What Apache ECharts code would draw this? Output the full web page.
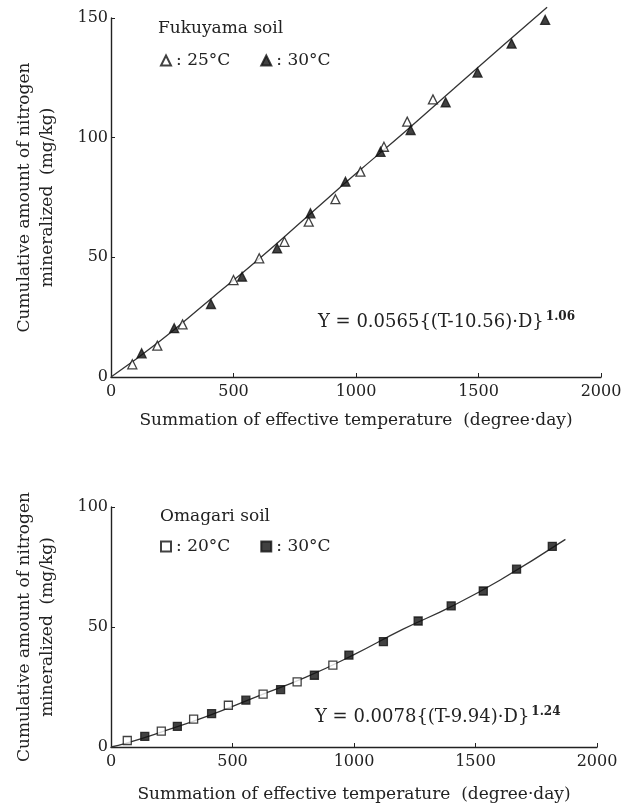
<!doctype html>
<html>
<head>
<meta charset="utf-8">
<script src="https://cdn.jsdelivr.net/npm/echarts@6/dist/echarts.min.js"></script>
<style>
  html, body { margin: 0; padding: 0; background: #fff; }
  #chart { width: 636px; height: 806px; }
</style>
</head>
<body>
<div id="chart"></div>
<script>
// Fukuyama soil (top panel): [effective temperature sum, N mineralized]
var fuku25 = [[87, 5.3], [189, 13.1], [292, 22], [500, 40.5], [605, 49.6], [708, 56.5], [807, 64.9],
  [916, 74.3], [1018, 85.8], [1114, 96.2], [1209, 106.7], [1314, 116]];
var fuku30 = [[125, 9.9], [258, 20.4], [408, 30.5], [535, 41.9], [678, 53.8], [814, 68.4], [957, 81.6],
  [1100, 94.1], [1223, 103.2], [1366, 114.8], [1496, 127.2], [1635, 139.3], [1772, 149.2]];
var fukuCurve = [[0, 0], [200, 15], [400, 32], [600, 49], [800, 67], [1000, 85], [1200, 102.5],
  [1400, 120.5], [1600, 138.5], [1780, 154.5]];

// Omagari soil (bottom panel)
var oma20 = [[67, 2.7], [207, 6.6], [340, 11.6], [483, 17.4], [626, 22], [766, 27.1], [913, 34.1]];
var oma30 = [[139, 4.4], [273, 8.6], [414, 13.9], [555, 19.5], [698, 23.9], [837, 29.9], [979, 38.3],
  [1121, 43.9], [1264, 52.5], [1400, 58.8], [1532, 65], [1669, 74.1], [1816, 83.6]];
var omaCurve = [[0, 0], [60, 1.5], [200, 6], [400, 13], [600, 21], [800, 29], [1000, 38.5],
  [1200, 49], [1400, 58.5], [1600, 69.5], [1870, 86.5]];

var xTicks = [0, 500, 1000, 1500, 2000];
var legendNames = { f25: '25°C', f30: '30°C', o20: '20°C', o30: '30°C' };

var FONT = 'DejaVu Serif';
var INK = '#222';
var chart = echarts.init(document.getElementById('chart'));

function xAxis(gi) {
  return {
    gridIndex: gi, type: 'value', min: xTicks[0], max: xTicks[xTicks.length - 1], interval: 500,
    name: 'Summation of effective temperature  (degree·day)',
    nameLocation: 'middle', nameGap: gi === 0 ? 35 : 39,
    nameTextStyle: { fontFamily: FONT, fontSize: 17, color: INK },
    axisLine: { lineStyle: { color: INK, width: 1.4 } },
    axisTick: { inside: true, length: 4, lineStyle: { color: INK } },
    axisLabel: { fontFamily: FONT, fontSize: 16, color: INK, margin: 7,
      formatter: function (v) { return String(v); } },
    splitLine: { show: false }
  };
}
function yAxis(gi, max) {
  return {
    gridIndex: gi, type: 'value', min: 0, max: max, interval: 50,
    name: 'Cumulative amount of nitrogen\nmineralized  (mg/kg)',
    nameLocation: 'middle', nameGap: 52,
    nameTextStyle: { fontFamily: FONT, fontSize: 17, color: INK, lineHeight: 23 },
    axisLine: { show: true, lineStyle: { color: INK, width: 1.4 } },
    axisTick: { show: true, inside: true, length: 4, lineStyle: { color: INK } },
    axisLabel: { fontFamily: FONT, fontSize: 16, color: INK, margin: 3 },
    splitLine: { show: false }
  };
}
function pts(name, data, gi, symbol, filled) {
  return {
    name: name, type: 'scatter', xAxisIndex: gi, yAxisIndex: gi, data: data,
    symbol: symbol, symbolSize: symbol === 'triangle' ? 9 : 8,
    itemStyle: { color: filled ? '#111' : '#fff', borderColor: '#111', borderWidth: 1.3 },
    z: 3
  };
}
function curve(name, data, gi) {
  return {
    name: name, type: 'line', xAxisIndex: gi, yAxisIndex: gi, data: data, clip: false,
    smooth: true, symbol: 'none', lineStyle: { color: '#333', width: 1.3 }, z: 2
  };
}
function legend(names, top) {
  return {
    data: names, left: 155, top: top, itemGap: 30, itemWidth: 10, itemHeight: 10,
    formatter: function (n) { return ': ' + legendNames[n]; },
    textStyle: { fontFamily: FONT, fontSize: 17, color: INK }, selectedMode: false
  };
}
var supStyle = { s: { fontFamily: FONT, fontSize: 12, fontWeight: 'bold', fill: INK, padding: [0, 0, 11, 2] } };

chart.setOption({
  backgroundColor: '#fff',
  animation: false,
  grid: [
    { left: 111, top: 18, width: 490, height: 359 },
    { left: 111, top: 507, width: 486, height: 240 }
  ],
  xAxis: [xAxis(0), xAxis(1)],
  yAxis: [yAxis(0, 150), yAxis(1, 100)],
  legend: [legend(['f25', 'f30'], 47), legend(['o20', 'o30'], 533)],
  graphic: [
    { type: 'text', left: 158, top: 20, style: { text: 'Fukuyama soil', font: '17px "DejaVu Serif"', fill: INK } },
    { type: 'text', left: 160, top: 508, style: { text: 'Omagari soil', font: '17px "DejaVu Serif"', fill: INK } },
    { type: 'text', left: 318, top: 311, style: {
        text: 'Y = 0.0565{(T-10.56)·D}{s|1.06}', font: '18px "DejaVu Serif"', fill: INK, rich: supStyle } },
    { type: 'text', left: 315, top: 706, style: {
        text: 'Y = 0.0078{(T-9.94)·D}{s|1.24}', font: '18px "DejaVu Serif"', fill: INK, rich: supStyle } }
  ],
  series: [
    curve('fc', fukuCurve, 0),
    pts('f25', fuku25, 0, 'triangle', false),
    pts('f30', fuku30, 0, 'triangle', true),
    curve('oc', omaCurve, 1),
    pts('o20', oma20, 1, 'rect', false),
    pts('o30', oma30, 1, 'rect', true)
  ]
});
</script>
</body>
</html>
